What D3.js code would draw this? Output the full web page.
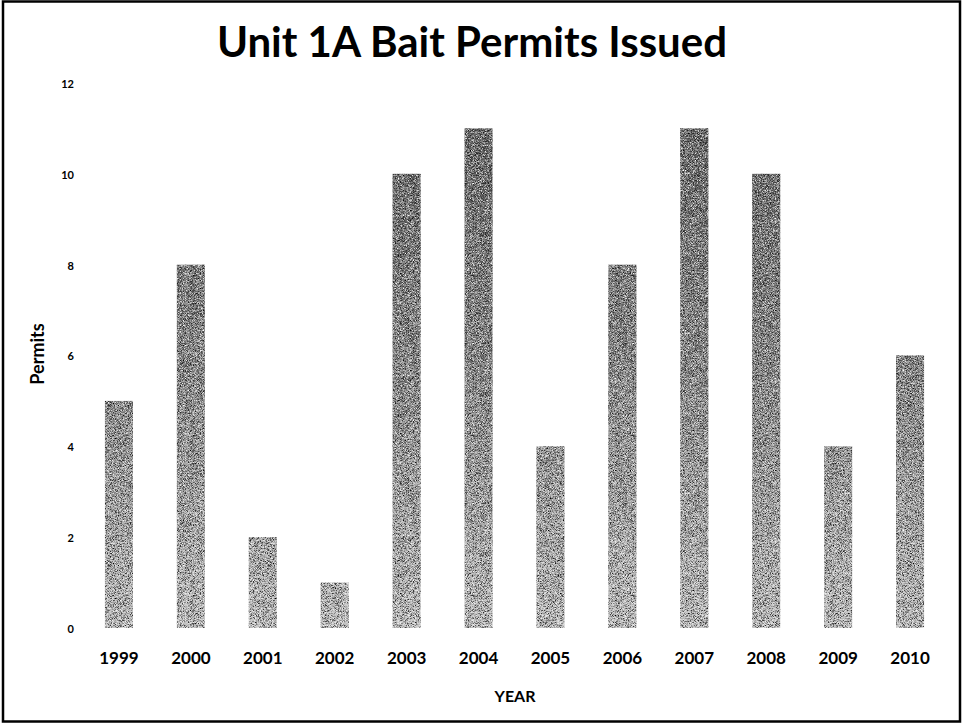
<!DOCTYPE html>
<html>
<head>
<meta charset="utf-8">
<script src="https://cdn.jsdelivr.net/npm/d3@7"></script>
<style>
  html, body { margin: 0; padding: 0; background: #fff; }
  svg { display: block; }
  text { font-family: Lato, "Open Sans", sans-serif; fill: #000; }
</style>
</head>
<body>
<svg id="chart" width="963" height="724"></svg>
<script>
// Permits issued per year
const years = ["1999","2000","2001","2002","2003","2004","2005","2006","2007","2008","2009","2010"];
const permits = [5, 8, 2, 1, 10, 11, 4, 8, 11, 10, 4, 6];
const yTicks = [0, 2, 4, 6, 8, 10, 12];

const titleText = "Unit 1A Bait Permits Issued";
const xTitle = "YEAR";
const yTitle = "Permits";

const W = 963, H = 724;
const svg = d3.select("#chart");

// Outer frame
svg.append("rect")
  .attr("x", 3).attr("y", 1.5)
  .attr("width", W - 6).attr("height", H - 4)
  .attr("fill", "#fff").attr("stroke", "#000").attr("stroke-width", 2.5);

const x = d3.scaleBand()
  .domain(years)
  .range([83, 946])
  .paddingInner(0.61)
  .paddingOuter(0.305);

const y = d3.scaleLinear().domain([0, 12]).range([628, 83]);

const defs = svg.append("defs");

// Vertical shading: darker toward the top of the plot
const grad = defs.append("linearGradient")
  .attr("id", "barShade")
  .attr("gradientUnits", "userSpaceOnUse")
  .attr("x1", 0).attr("x2", 0)
  .attr("y1", y(12)).attr("y2", y(0));
grad.append("stop").attr("offset", 0).attr("stop-color", "#626262");
grad.append("stop").attr("offset", 0.55).attr("stop-color", "#8a8a8a");
grad.append("stop").attr("offset", 1).attr("stop-color", "#bcbcbc");

// Fine speckled texture on the bars
const f = defs.append("filter")
  .attr("id", "grain")
  .attr("x", 0).attr("y", 0).attr("width", 1).attr("height", 1)
  .attr("color-interpolation-filters", "sRGB");
f.append("feTurbulence")
  .attr("type", "fractalNoise").attr("baseFrequency", 1.6)
  .attr("numOctaves", 1).attr("seed", 7).attr("result", "noise");
f.append("feColorMatrix")
  .attr("in", "noise").attr("type", "matrix")
  .attr("values", "0 0 0 0 0  0 0 0 0 0  0 0 0 0 0  3.2 0 0 0 -1.6")
  .attr("result", "darkRaw");
f.append("feComposite")
  .attr("in", "darkRaw").attr("in2", "SourceAlpha").attr("operator", "in")
  .attr("result", "dark");
f.append("feColorMatrix")
  .attr("in", "noise").attr("type", "matrix")
  .attr("values", "0 0 0 0 1  0 0 0 0 1  0 0 0 0 1  -3.2 0 0 0 1.6")
  .attr("result", "lightRaw");
f.append("feComposite")
  .attr("in", "lightRaw").attr("in2", "SourceAlpha").attr("operator", "in")
  .attr("result", "light");
const merge = f.append("feMerge");
merge.append("feMergeNode").attr("in", "SourceGraphic");
merge.append("feMergeNode").attr("in", "dark");
merge.append("feMergeNode").attr("in", "light");

// Bars
svg.append("g")
  .selectAll("rect")
  .data(years.map((yr, i) => ({ yr, v: permits[i] })))
  .join("rect")
  .attr("x", d => x(d.yr))
  .attr("y", d => y(d.v))
  .attr("width", x.bandwidth())
  .attr("height", d => y(0) - y(d.v))
  .attr("fill", "url(#barShade)")
  .attr("filter", "url(#grain)");

// Y axis labels (no axis line or ticks)
const yAxis = svg.append("g")
  .attr("transform", "translate(74,0)")
  .call(d3.axisLeft(y).tickValues(yTicks).tickSize(0).tickPadding(0));
yAxis.select(".domain").remove();
yAxis.selectAll("text")
  .style("font-family", "Lato, sans-serif")
  .style("font-size", "11px")
  .style("font-weight", "700")
  .attr("fill", "#000")
  .attr("dy", "0.4em");

// X axis labels
const xAxis = svg.append("g")
  .attr("transform", "translate(0,655)")
  .call(d3.axisBottom(x).tickSize(0).tickPadding(0));
xAxis.select(".domain").remove();
xAxis.selectAll("text")
  .style("font-family", "Lato, sans-serif")
  .style("font-size", "17px")
  .style("font-weight", "700")
  .attr("fill", "#000")
  .attr("dy", "0.55em");

// Axis titles
svg.append("text")
  .attr("x", 515).attr("y", 702)
  .attr("text-anchor", "middle")
  .style("font-size", "16px").style("font-weight", "700")
  .text(xTitle);

svg.append("text")
  .attr("transform", "translate(44,354) rotate(-90)")
  .attr("text-anchor", "middle")
  .style("font-size", "18px").style("font-weight", "700")
  .text(yTitle);

// Chart title
svg.append("text")
  .attr("x", 472).attr("y", 57)
  .attr("text-anchor", "middle")
  .style("font-size", "42px").style("font-weight", "700")
  .text(titleText);
</script>
</body>
</html>
